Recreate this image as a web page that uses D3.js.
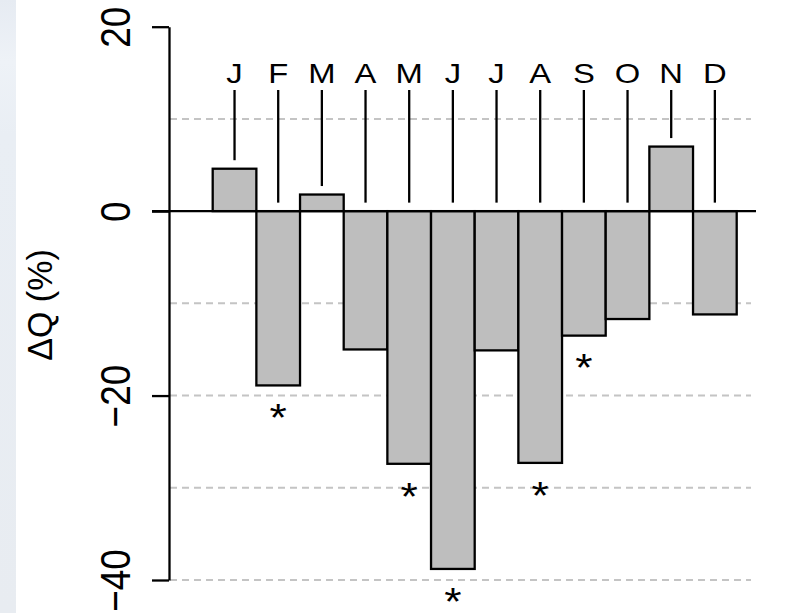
<!DOCTYPE html>
<html>
<head>
<meta charset="utf-8">
<script src="https://cdn.jsdelivr.net/npm/d3@7"></script>
<style>
  html, body { margin: 0; padding: 0; background: #ffffff; }
  svg { display: block; }
  text { font-family: "Liberation Sans", Arial, Helvetica, sans-serif; fill: #000; }
</style>
</head>
<body>
<svg id="chart" width="809" height="613"></svg>
<script>
// Monthly change in discharge (%), January to December
const months = ["J", "F", "M", "A", "M", "J", "J", "A", "S", "O", "N", "D"];
const deltaQ = [4.6, -18.9, 1.8, -15.0, -27.4, -38.8, -15.1, -27.3, -13.5, -11.7, 7.0, -11.2];
const significant = [false, true, false, false, true, true, false, true, true, false, false, false];
const yTicks = [20, 0, -20, -40];
const gridValues = [10, -10, -20, -30, -40];
const yLabel = "ΔQ (%)";

const svg = d3.select("#chart");
const W = 809, H = 613;
const textStretch = 1.17;
const lw = 2.3;

// pale strip along the left edge
const defs = svg.append("defs");
const grad = defs.append("linearGradient").attr("id", "edge").attr("x1", 0).attr("y1", 0).attr("x2", 0).attr("y2", 1);
grad.append("stop").attr("offset", "0").attr("stop-color", "#e6ebf2");
grad.append("stop").attr("offset", "0.1").attr("stop-color", "#eef2f7");
grad.append("stop").attr("offset", "0.22").attr("stop-color", "#e9eef4");
grad.append("stop").attr("offset", "1").attr("stop-color", "#e8ecf1");
svg.append("rect").attr("x", 0).attr("y", 0).attr("width", 16).attr("height", H).attr("fill", "url(#edge)");

const idx = d3.range(months.length);
const x = d3.scaleBand().domain(idx).range([212.7, 736.7]).padding(0);
const y = d3.scaleLinear().domain([-40, 20]).range([580, 26.7]);
const axisX = 169;

// dashed reference lines
svg.append("g").selectAll("line").data(gridValues).join("line")
  .attr("x1", axisX + 1).attr("x2", 751)
  .attr("y1", d => y(d)).attr("y2", d => y(d))
  .attr("stroke", "#c4c4c4").attr("stroke-width", 2).attr("stroke-dasharray", "7,5");

// bars
svg.append("g").selectAll("rect").data(idx).join("rect")
  .attr("x", i => x(i))
  .attr("width", x.bandwidth())
  .attr("y", i => Math.min(y(deltaQ[i]), y(0)))
  .attr("height", i => Math.abs(y(deltaQ[i]) - y(0)))
  .attr("fill", "#bebebe").attr("stroke", "#000").attr("stroke-width", lw);

// zero line
svg.append("line")
  .attr("x1", axisX - 17).attr("x2", 756)
  .attr("y1", y(0)).attr("y2", y(0))
  .attr("stroke", "#000").attr("stroke-width", lw);

// leader lines from month labels down to each bar
svg.append("g").selectAll("line").data(idx).join("line")
  .attr("x1", i => x(i) + x.bandwidth() / 2).attr("x2", i => x(i) + x.bandwidth() / 2)
  .attr("y1", 90)
  .attr("y2", i => Math.min(y(deltaQ[i]), y(0)) - 8.5)
  .attr("stroke", "#000").attr("stroke-width", lw);

// month labels
svg.append("g").selectAll("text").data(idx).join("text")
  .attr("transform", i => `translate(${x(i) + x.bandwidth() / 2},83) scale(${textStretch},1)`)
  .attr("text-anchor", "middle")
  .attr("font-size", 28)
  .text(i => months[i]);

// significance markers below bars
const starSize = 38;
svg.append("g").selectAll("text").data(idx.filter(i => significant[i])).join("text")
  .attr("transform", i => `translate(${x(i) + x.bandwidth() / 2},${y(deltaQ[i]) + 24 + 0.575 * starSize}) scale(${textStretch},1)`)
  .attr("text-anchor", "middle")
  .attr("font-size", starSize)
  .text("*");

// y axis
const yAxis = d3.axisLeft(y).tickValues(yTicks).tickSize(17).tickSizeOuter(0).tickFormat(d => d < 0 ? "\u2212" + Math.abs(d) : d);
const gAxis = svg.append("g").attr("transform", `translate(${axisX},0)`).call(yAxis);
gAxis.select(".domain").attr("stroke", "#000").attr("stroke-width", lw);
gAxis.selectAll(".tick line").attr("stroke", "#000").attr("stroke-width", lw);
gAxis.selectAll(".tick text")
  .attr("x", null).attr("dy", null).attr("fill", "#000")
  .attr("font-family", "'Liberation Sans', Arial, sans-serif")
  .attr("font-size", 37)
  .attr("text-anchor", "middle")
  .attr("transform", `translate(${130 - axisX},0) scale(${textStretch},1) rotate(-90)`);

// y axis title
svg.append("text")
  .attr("transform", `translate(52,305) scale(1.05,1) rotate(-90)`)
  .attr("text-anchor", "middle")
  .attr("font-size", 34)
  .text(yLabel);
</script>
</body>
</html>
